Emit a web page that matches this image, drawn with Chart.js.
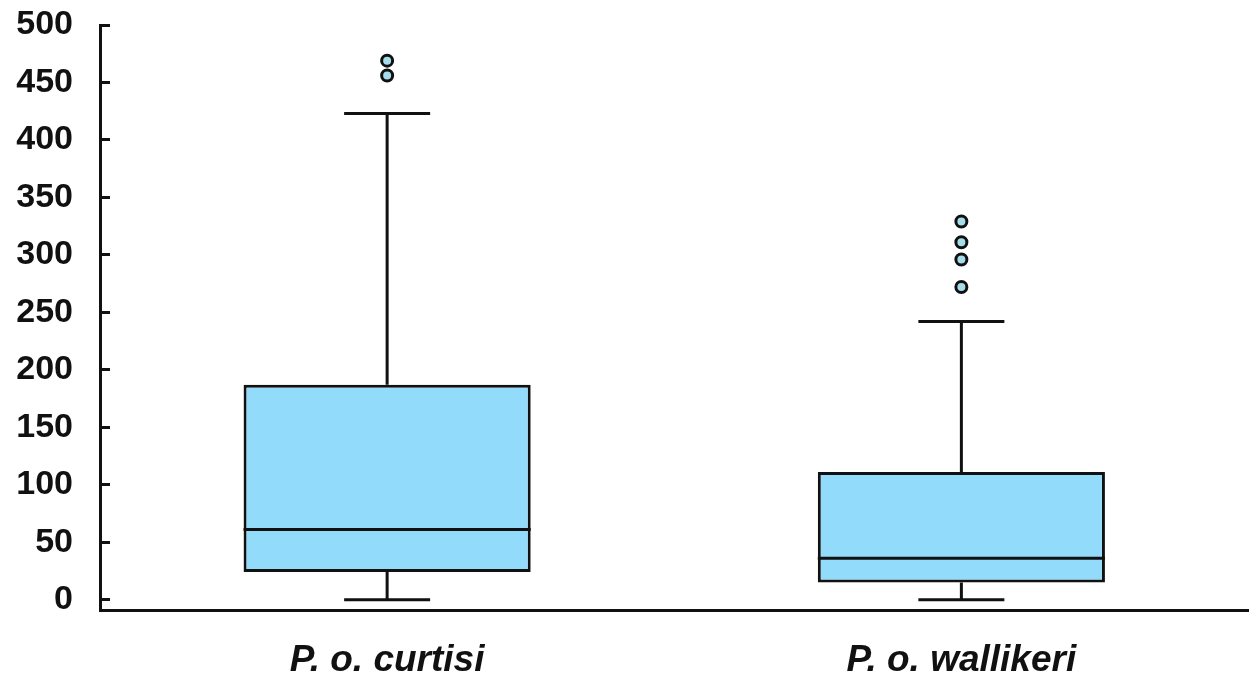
<!DOCTYPE html>
<html>
<head>
<meta charset="utf-8">
<script src="https://cdn.jsdelivr.net/npm/chart.js@4.4.1/dist/chart.umd.min.js"></script>
<style>
  html, body { margin: 0; padding: 0; background: #fff; }
  #wrap { width: 1257px; height: 677px; }
</style>
</head>
<body>
<div id="wrap"><canvas id="boxChart"></canvas></div>
<script>
// box plot values
const categories = ['P. o. curtisi', 'P. o. wallikeri'];
const whiskerLow = [0, 0];
const q1 = [24, 15];
const medians = [61, 36];
const q3 = [187, 111];
const whiskerHigh = [423, 242];
const outliersCurtisi = [456, 469];
const outliersWallikeri = [272, 296, 311, 329];
const yTicks = [0, 50, 100, 150, 200, 250, 300, 350, 400, 450, 500];

const fontFamily = '"Liberation Sans", Arial, sans-serif';

const outlierPoints = [];
outliersCurtisi.forEach(v => outlierPoints.push({ x: categories[0], y: v }));
outliersWallikeri.forEach(v => outlierPoints.push({ x: categories[1], y: v }));

// whiskers + median line, drawn with the chart's own scales
const whiskerPlugin = {
  id: 'whiskers',
  afterDatasetDraw(chart, args) {
    if (args.index !== 0) return;
    const ctx = chart.ctx;
    const x = chart.scales.x, y = chart.scales.y;
    const meta = chart.getDatasetMeta(0);
    ctx.save();
    ctx.strokeStyle = '#111';
    ctx.lineWidth = 3;
    categories.forEach((c, i) => {
      const cx = x.getPixelForValue(i);
      const bar = meta.data[i];
      const half = bar.width / 2;
      const capHalf = 43;
      ctx.beginPath();
      // upper whisker
      ctx.moveTo(cx, y.getPixelForValue(q3[i]));
      ctx.lineTo(cx, y.getPixelForValue(whiskerHigh[i]));
      ctx.moveTo(cx - capHalf, y.getPixelForValue(whiskerHigh[i]));
      ctx.lineTo(cx + capHalf, y.getPixelForValue(whiskerHigh[i]));
      // lower whisker
      ctx.moveTo(cx, y.getPixelForValue(q1[i]));
      ctx.lineTo(cx, y.getPixelForValue(whiskerLow[i]));
      ctx.moveTo(cx - capHalf, y.getPixelForValue(whiskerLow[i]));
      ctx.lineTo(cx + capHalf, y.getPixelForValue(whiskerLow[i]));
      // median
      ctx.moveTo(cx - half, y.getPixelForValue(medians[i]));
      ctx.lineTo(cx + half, y.getPixelForValue(medians[i]));
      ctx.stroke();
    });
    ctx.restore();
  }
};

new Chart(document.getElementById('boxChart'), {
  type: 'bar',
  data: {
    labels: categories,
    datasets: [
      {
        label: 'box',
        data: categories.map((c, i) => [q1[i], q3[i]]),
        backgroundColor: '#93DBFA',
        borderColor: '#111',
        borderWidth: 3,
        borderSkipped: false,
        barPercentage: 0.5,
        categoryPercentage: 1,
        order: 2
      },
      {
        type: 'line',
        label: 'outliers',
        data: outlierPoints,
        showLine: false,
        pointRadius: 5.5,
        pointBorderWidth: 3,
        pointBackgroundColor: '#A6DDEB',
        pointBorderColor: '#111',
        order: 1
      }
    ]
  },
  plugins: [whiskerPlugin],
  options: {
    responsive: true,
    maintainAspectRatio: false,
    animation: false,
    layout: { padding: { top: 25, right: 5, left: 0, bottom: 0 } },
    plugins: {
      legend: { display: false },
      tooltip: { enabled: false }
    },
    scales: {
      x: {
        grid: { display: false, drawTicks: false },
        border: { display: true, color: '#111', width: 3 },
        ticks: {
          color: '#111',
          padding: 29,
          font: { family: fontFamily, size: 37, weight: 'bold', style: 'italic' }
        },
        afterFit: s => { s.height = 67; s.paddingLeft = 0; s.paddingRight = 0; }
      },
      y: {
        min: -9,
        max: 500,
        afterBuildTicks: s => { s.ticks = yTicks.map(v => ({ value: v })); },
        grid: {
          display: true,
          drawOnChartArea: false,
          drawTicks: true,
          tickLength: -10,
          tickWidth: 3,
          tickColor: '#111'
        },
        border: { display: true, color: '#111', width: 3 },
        ticks: {
          color: '#111',
          padding: 37,
          font: { family: fontFamily, size: 34, weight: 'bold' }
        },
        afterFit: s => { s.width = 100; s.paddingTop = 0; s.paddingBottom = 0; }
      }
    }
  }
});
</script>
</body>
</html>
